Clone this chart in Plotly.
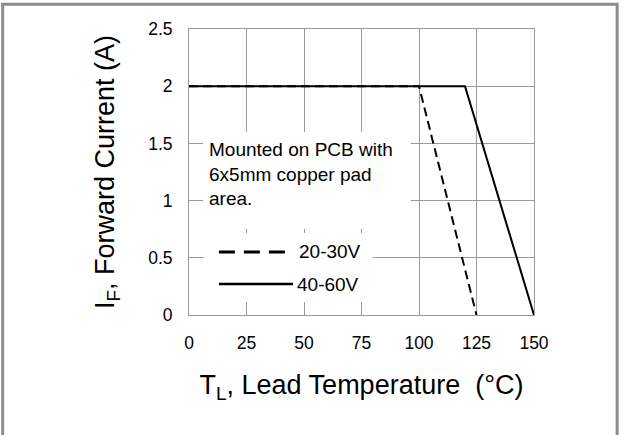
import plotly.graph_objects as go

# Data
temp_2030 = [0, 100, 125]
curr_2030 = [2, 2, 0]
temp_4060 = [0, 120, 150]
curr_4060 = [2, 2, 0]
x_ticks = [0, 25, 50, 75, 100, 125, 150]
y_ticks = [0, 0.5, 1, 1.5, 2, 2.5]
y_tick_text = ["0", "0.5", "1", "1.5", "2", "2.5"]
series_names = ["20-30V", "40-60V"]
note_text = "Mounted on PCB with<br>6x5mm copper pad<br>area."

FONT = "Liberation Sans, Arial, sans-serif"
GRID = "#9a9a9a"

fig = go.Figure()
fig.add_trace(go.Scatter(x=temp_2030, y=curr_2030, mode="lines", name=series_names[0],
                         line=dict(color="black", width=2, dash="9px,5px"), showlegend=False))
fig.add_trace(go.Scatter(x=temp_4060, y=curr_4060, mode="lines", name=series_names[1],
                         line=dict(color="black", width=2), showlegend=False))

shapes = [
    # white boxes behind text (cover grid)
    dict(type="rect", xref="x", yref="y", x0=6.1, x1=96.4, y0=0.752, y1=1.60,
         fillcolor="white", line=dict(width=0), layer="between"),
    dict(type="rect", xref="x", yref="y", x0=6.5, x1=79.9, y0=0.114, y1=0.717,
         fillcolor="white", line=dict(width=0), layer="between"),
    # legend samples
    dict(type="line", xref="x", yref="y", x0=13.0, x1=41.7, y0=0.551, y1=0.551,
         line=dict(color="black", width=3, dash="16px,9px")),
    dict(type="line", xref="x", yref="y", x0=13.0, x1=45.2, y0=0.271, y1=0.271,
         line=dict(color="black", width=2.5)),
    # figure border (left, top, right)
    dict(type="path", xref="paper", yref="paper",
         path="M -0.5401 -0.44 L -0.5401 1.0868 L 1.2410 1.0868 L 1.2410 -0.44",
         line=dict(color="#8c8c8c", width=3)),
]

annotations = [
    dict(x=8.0, y=1.234, xref="x", yref="y", text=note_text, showarrow=False,
         xanchor="left", yanchor="middle", align="left",
         font=dict(family=FONT, size=19, color="black")),
    dict(x=46.9, y=0.551, xref="x", yref="y", text=series_names[0], showarrow=False,
         xanchor="left", yanchor="middle", font=dict(family=FONT, size=19, color="black")),
    dict(x=46.0, y=0.271, xref="x", yref="y", text=series_names[1], showarrow=False,
         xanchor="left", yanchor="middle", font=dict(family=FONT, size=19, color="black")),
]

fig.update_layout(
    width=622, height=435,
    margin=dict(l=189, r=88, t=29, b=120),
    paper_bgcolor="white", plot_bgcolor="white",
    shapes=shapes, annotations=annotations,
    font=dict(family=FONT, color="black"),
)
fig.update_xaxes(
    range=[0, 150], tickvals=x_ticks, ticks="", showgrid=True, gridcolor=GRID, gridwidth=1,
    showline=True, linecolor=GRID, linewidth=1, mirror=True, zeroline=False,
    tickfont=dict(family=FONT, size=17.5, color="black"), ticklabelstandoff=12,
    title=dict(text="T<sub>L</sub>, Lead Temperature \u00a0(°C)",
               font=dict(family=FONT, size=27, color="black"), standoff=23),
)
fig.update_yaxes(
    range=[0, 2.5], tickvals=y_ticks, ticktext=y_tick_text, ticks="", showgrid=True,
    gridcolor=GRID, gridwidth=1, showline=True, linecolor=GRID, linewidth=1, mirror=True,
    zeroline=False, tickfont=dict(family=FONT, size=17.5, color="black"), ticklabelstandoff=12,
    title=dict(text="I<sub>F</sub>, Forward Current (A)",
               font=dict(family=FONT, size=27, color="black"), standoff=25),
)

fig.write_html("out.html", config={"displayModeBar": False},
               post_script="document.body.style.margin='0';")
